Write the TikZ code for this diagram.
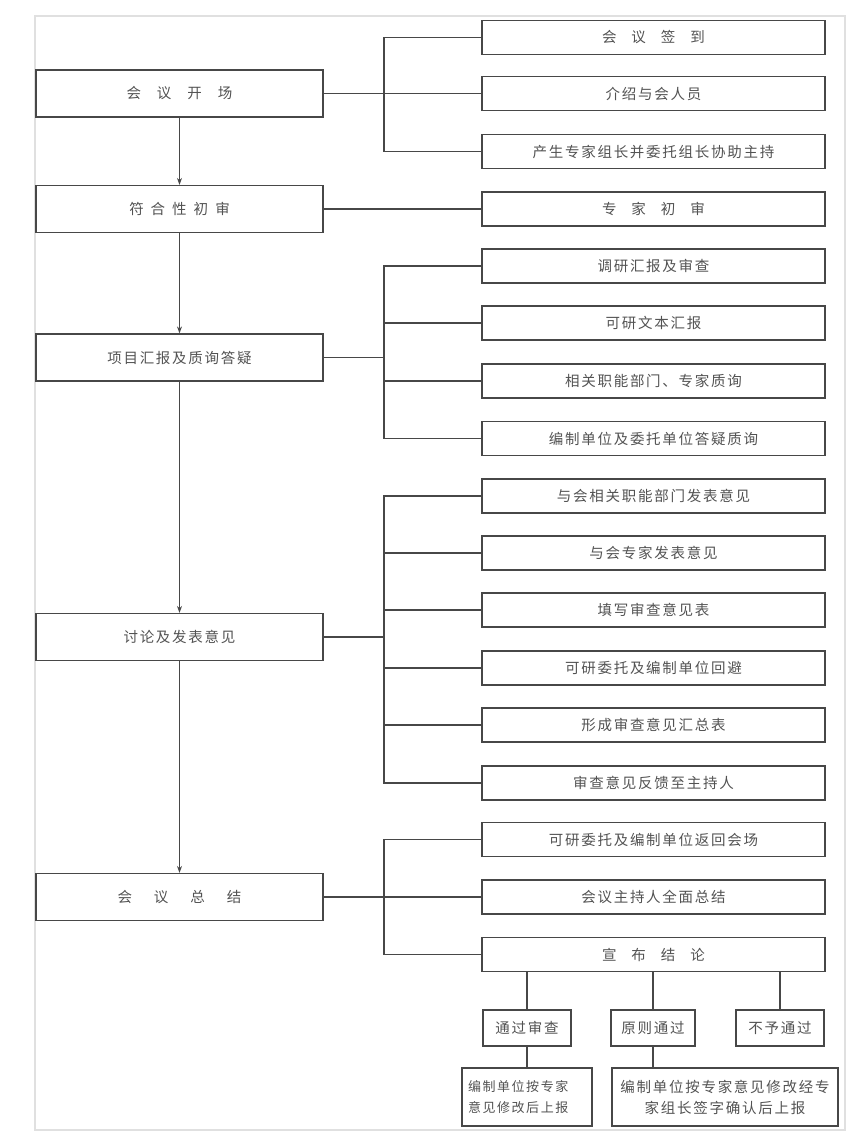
\documentclass[tikz,border=0pt]{standalone}
\usepackage{fontspec}
\newfontfamily\cjk[LetterSpace=12]{Noto Sans CJK SC}
\usetikzlibrary{arrows.meta}
\begin{document}
\begin{tikzpicture}[x=1pt,y=-1pt,
  every node/.style={font=\cjk\fontsize{14.5}{21}\selectfont, text=black!68},
  lbox/.style={draw=black!72, line width=1.2pt, minimum width=287pt, minimum height=47pt, inner sep=0pt},
  rbox/.style={draw=black!72, line width=1.2pt, minimum width=343pt, minimum height=34pt, inner sep=0pt},
  sbox/.style={draw=black!72, line width=1.2pt, minimum height=36pt, inner sep=0pt},
  bbox/.style={draw=black!72, line width=1.2pt, minimum height=58pt, inner sep=0pt},
  conn/.style={draw=black!72, line width=1.1pt},
  flow/.style={conn, -{Stealth[length=7pt,width=5pt]}}
]
\path[use as bounding box] (0,0) rectangle (861,1144);
\draw[black!12, line width=1.2pt] (35,16) rectangle (845,1130);
\coordinate (bus) at (384,0);

% left column
\node[lbox] (l1) at (179.5,93.5) {会\hspace{16pt}议\hspace{16pt}开\hspace{16pt}场};
\node[lbox] (l2) at (179.5,209) {符\hspace{7pt}合\hspace{7pt}性\hspace{7pt}初\hspace{7pt}审};
\node[lbox] (l3) at (179.5,357.5) {项目汇报及质询答疑};
\node[lbox] (l4) at (179.5,637) {讨论及发表意见};
\node[lbox] (l5) at (179.5,897) {会\hspace{22pt}议\hspace{22pt}总\hspace{22pt}结};

% right column
\node[rbox] (r1) at (653.5,37.5) {会\hspace{15pt}议\hspace{15pt}签\hspace{15pt}到};
\node[rbox] (r2) at (653.5,93.5) {介绍与会人员};
\node[rbox] (r3) at (653.5,151.5) {产生专家组长并委托组长协助主持};
\node[rbox] (r4) at (653.5,209) {专\hspace{15pt}家\hspace{15pt}初\hspace{15pt}审};
\node[rbox] (r5) at (653.5,266) {调研汇报及审查};
\node[rbox] (r6) at (653.5,323) {可研文本汇报};
\node[rbox] (r7) at (653.5,381) {相关职能部门、专家质询};
\node[rbox] (r8) at (653.5,438.5) {编制单位及委托单位答疑质询};
\node[rbox] (r9) at (653.5,496) {与会相关职能部门发表意见};
\node[rbox] (r10) at (653.5,553) {与会专家发表意见};
\node[rbox] (r11) at (653.5,610) {填写审查意见表};
\node[rbox] (r12) at (653.5,668) {可研委托及编制单位回避};
\node[rbox] (r13) at (653.5,725) {形成审查意见汇总表};
\node[rbox] (r14) at (653.5,783) {审查意见反馈至主持人};
\node[rbox] (r15) at (653.5,839.5) {可研委托及编制单位返回会场};
\node[rbox] (r16) at (653.5,897) {会议主持人全面总结};
\node[rbox] (r17) at (653.5,954.5) {宣\hspace{15pt}布\hspace{15pt}结\hspace{15pt}论};

% conclusion boxes
\node[sbox, minimum width=88pt] (s1) at (527,1028) {通过审查};
\node[sbox, minimum width=84pt] (s2) at (653,1028) {原则通过};
\node[sbox, minimum width=88pt] (s3) at (780,1028) {不予通过};
\node[bbox, minimum width=130pt, text width=118pt, align=left, font=\cjk\fontsize{13}{21}\selectfont] (b1) at (527,1097) {编制单位按专家\\意见修改后上报};
\node[bbox, minimum width=226pt, text width=222pt, align=center] (b2) at (725,1097) {编制单位按专家意见修改经专\\家组长签字确认后上报};

% main flow arrows
\draw[flow] (l1.south) -- (l2.north);
\draw[flow] (l2.south) -- (l3.north);
\draw[flow] (l3.south) -- (l4.north);
\draw[flow] (l4.south) -- (l5.north);

% group 1
\draw[conn] (l1.east) -- (r2.west);
\draw[conn] (r1.west) -- (r1.west -| bus) |- (r3.west);
% group 2
\draw[conn] (l2.east) -- (r4.west);
% group 3
\draw[conn] (l3.east) -- (l3.east -| bus);
\draw[conn] (r5.west) -- (r5.west -| bus) |- (r8.west);
\draw[conn] (r6.west) -- (r6.west -| bus);
\draw[conn] (r7.west) -- (r7.west -| bus);
% group 4
\draw[conn] (l4.east) -- (l4.east -| bus);
\draw[conn] (r9.west) -- (r9.west -| bus) |- (r14.west);
\draw[conn] (r10.west) -- (r10.west -| bus);
\draw[conn] (r11.west) -- (r11.west -| bus);
\draw[conn] (r12.west) -- (r12.west -| bus);
\draw[conn] (r13.west) -- (r13.west -| bus);
% group 5
\draw[conn] (l5.east) -- (r16.west);
\draw[conn] (r15.west) -- (r15.west -| bus) |- (r17.west);

% conclusions
\draw[conn] (s1.north |- r17.south) -- (s1.north);
\draw[conn] (s2.north |- r17.south) -- (s2.north);
\draw[conn] (s3.north |- r17.south) -- (s3.north);
\draw[conn] (s1.south) -- (b1.north);
\draw[conn] (s2.south) -- (s2.south |- b2.north);
\end{tikzpicture}
\end{document}
